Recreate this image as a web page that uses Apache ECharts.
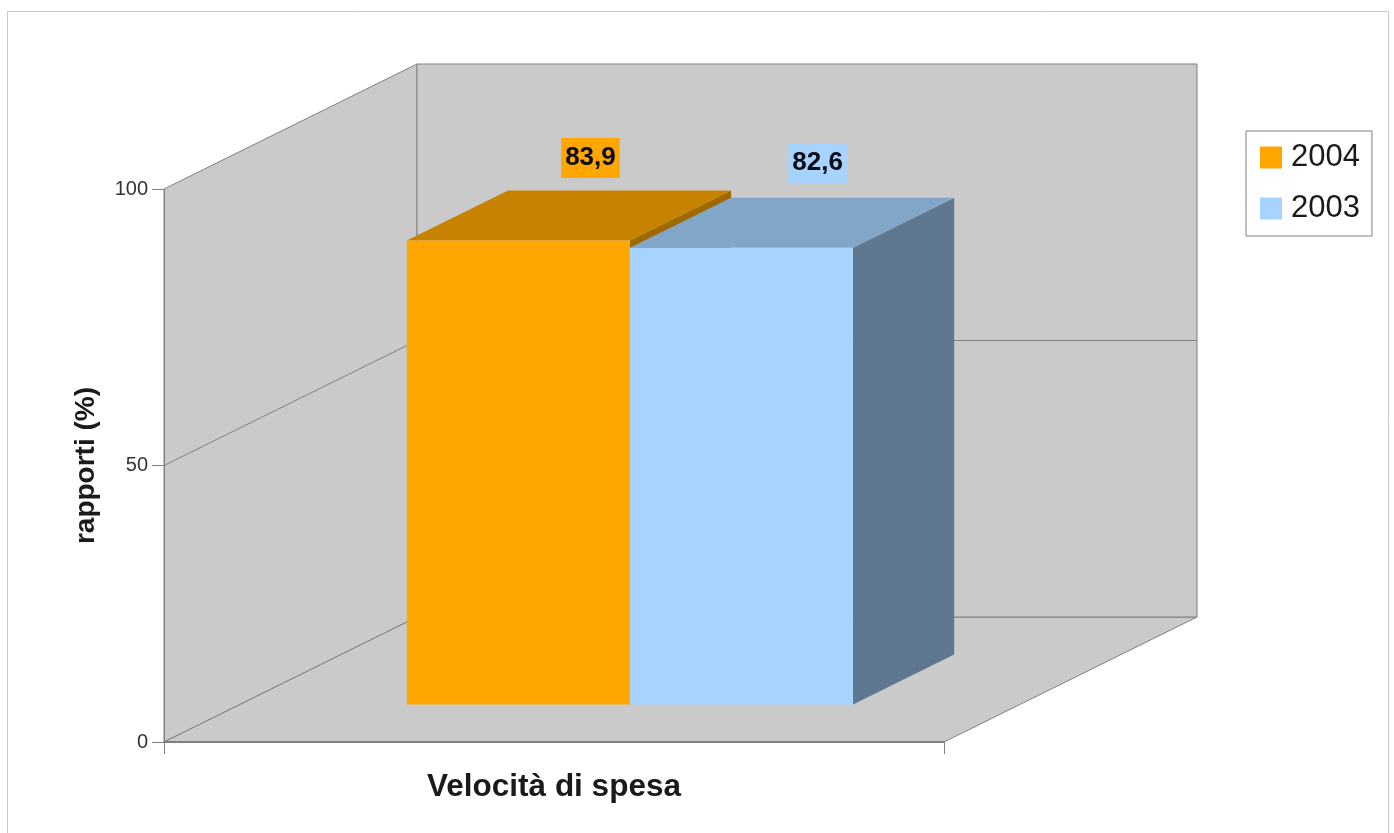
<!DOCTYPE html>
<html>
<head>
<meta charset="utf-8">
<title>Velocità di spesa</title>
<script src="https://cdn.jsdelivr.net/npm/echarts@6/dist/echarts.min.js"></script>
<style>
  html, body { margin: 0; padding: 0; background: #fff; }
  #chart { width: 1394px; height: 833px; }
</style>
</head>
<body>
<div id="chart"></div>
<script>
const categories = ['Velocità di spesa'];
const years = ['2004', '2003'];
const values2004 = [83.9];
const values2003 = [82.6];
const yTicks = [0, 50, 100];

const FONT = '"Liberation Sans", Arial, sans-serif';
// depth of the fake 3D box, in pixels
const DEPTH_X = 253, DEPTH_Y = -125;
// where the bars sit inside that depth (fractions)
const BAR_FRONT = 0.3, BAR_BACK = 0.7;
const BAR_SHARE = 0.286; // bar width as a share of the category band

const chart = echarts.init(document.getElementById('chart'), null, { renderer: 'canvas' });

// project a point of the front plane back into the box
function deep(p, d) {
  return [p[0] + DEPTH_X * d, p[1] + DEPTH_Y * d];
}

function poly(points, fill, stroke) {
  return {
    type: 'polygon',
    shape: { points: points },
    style: { fill: fill, stroke: stroke || null, lineWidth: stroke ? 1 : 0 }
  };
}

//walls and floor
function renderBox(params, api) {
  const band = api.size([1, 0])[0];
  const cx = api.coord([0, 0])[0];
  const x0 = cx - band / 2, x1 = cx + band / 2;
  const yBottom = api.coord([0, yTicks[0]])[1];
  const yTop = api.coord([0, yTicks[yTicks.length - 1]])[1];
  const fill = '#cacaca', line = '#808080';
  const tl = [x0, yTop], bl = [x0, yBottom], br = [x1, yBottom];
  const children = [
    poly([tl, deep(tl, 1), deep(bl, 1), bl], fill, line),
    poly([bl, deep(bl, 1), deep(br, 1), br], fill, line),
    poly([deep(tl, 1), deep([x1, yTop], 1), deep(br, 1), deep(bl, 1)], fill, line)
  ];
  //grid lines on the left and back wall
  yTicks.slice(1, -1).forEach(function (t) {
    const y = api.coord([0, t])[1];
    const a = [x0, y], b = deep(a, 1), c = deep([x1, y], 1);
    children.push({
      type: 'polyline',
      shape: { points: [a, b, c] },
      style: { fill: null, stroke: line, lineWidth: 1 }
    });
  });
  return { type: 'group', children: children };
}

function renderBar(colors, slot, labelDx, labelDy) {
  return function (params, api) {
    const val = api.value(1);
    const band = api.size([1, 0])[0];
    const w = band * BAR_SHARE;
    const cx = api.coord([0, 0])[0];
    const left = cx + (slot - 1) * w;
    const right = left + w;
    const base = api.coord([0, 0])[1];
    const top = api.coord([0, val])[1];
    const fTL = deep([left, top], BAR_FRONT), fTR = deep([right, top], BAR_FRONT);
    const fBL = deep([left, base], BAR_FRONT), fBR = deep([right, base], BAR_FRONT);
    const bTL = deep([left, top], BAR_BACK), bTR = deep([right, top], BAR_BACK);
    const bBR = deep([right, base], BAR_BACK);
    return {
      type: 'group',
      children: [
        poly([fTR, bTR, bBR, fBR], colors.side),
        poly([fTL, bTL, bTR, fTR], colors.top),
        poly([fTL, fTR, fBR, fBL], colors.front),
        {
          type: 'text',
          style: {
            text: String(val).replace('.', ','),
            x: (left + right) / 2 + labelDx,
            y: top + labelDy,
            align: 'center',
            verticalAlign: 'middle',
            fill: '#0a0a14',
            font: 'bold 26px ' + FONT,
            backgroundColor: colors.front,
            padding: [7, 4, 7, 4]
          }
        }
      ]
    };
  };
}

const orange = { front: '#ffa600', top: '#c78200', side: '#a06900' };
const blue = { front: '#a6d4ff', top: '#81a6c8', side: '#5f7890' };

chart.setOption({
  backgroundColor: '#fff',
  animation: false,
  graphic: [{
    type: 'rect',
    shape: { x: 7.5, y: 11.5, width: 1381, height: 830 },
    style: { fill: null, stroke: '#c8c8c8', lineWidth: 1 },
    silent: true,
    z: -1
  }],
  grid: { left: 164, top: 189, width: 780, height: 553 },
  legend: {
    left: 1246,
    top: 131,
    orient: 'vertical',
    data: years,
    icon: 'rect',
    itemWidth: 22,
    itemHeight: 22,
    itemGap: 20,
    padding: [11, 12, 12, 14],
    borderColor: '#808080',
    borderWidth: 1,
    selectedMode: false,
    textStyle: { fontFamily: FONT, fontSize: 31, color: '#1a1a1a', padding: [0, 0, 0, 4] }
  },
  xAxis: {
    type: 'category',
    data: categories,
    axisLine: { lineStyle: { color: '#808080', width: 2 } },
    axisTick: { show: true, alignWithLabel: false, length: 12, lineStyle: { color: '#808080' } },
    axisLabel: {
      margin: 29,
      fontFamily: FONT,
      fontSize: 31.5,
      fontWeight: 'bold',
      color: '#1a1a1a'
    },
    z: 5
  },
  yAxis: {
    type: 'value',
    min: 0,
    max: 100,
    interval: 50,
    name: 'rapporti (%)',
    nameLocation: 'middle',
    nameGap: 64,
    nameTextStyle: { fontFamily: FONT, fontSize: 28, fontWeight: 'bold', color: '#1a1a1a' },
    axisLine: { show: true, lineStyle: { color: '#808080' } },
    axisTick: { show: true, length: 12, lineStyle: { color: '#808080' } },
    axisLabel: { margin: 16, fontFamily: FONT, fontSize: 20, color: '#333' },
    splitLine: { show: false },
    z: 5
  },
  series: [
    { type: 'custom', name: 'box', clip: false, z: 1, silent: true, renderItem: renderBox, data: [[0, 0]] },
    {
      type: 'custom', name: years[0], clip: false, z: 2, silent: true,
      itemStyle: { color: orange.front },
      renderItem: renderBar(orange, 0, 148, -120),
      data: values2004.map(function (v, i) { return [i, v]; })
    },
    {
      type: 'custom', name: years[1], clip: false, z: 3, silent: true,
      itemStyle: { color: blue.front },
      renderItem: renderBar(blue, 1, 152, -122),
      data: values2003.map(function (v, i) { return [i, v]; })
    }
  ]
});
</script>
</body>
</html>
